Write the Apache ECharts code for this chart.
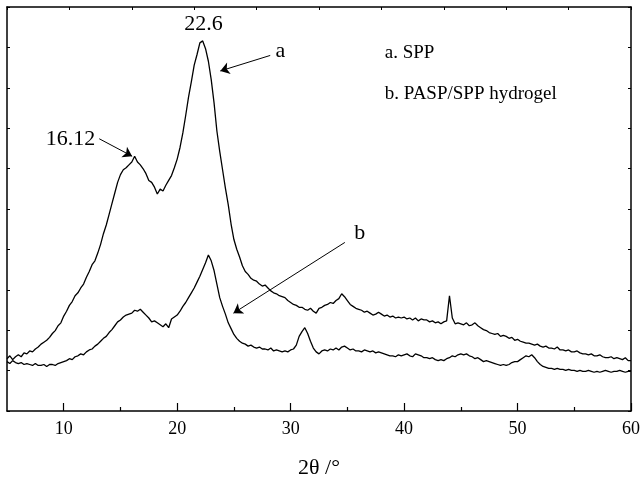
<!DOCTYPE html>
<html>
<head>
<meta charset="utf-8">
<script src="https://cdn.jsdelivr.net/npm/echarts@6/dist/echarts.min.js"></script>
<style>html,body{margin:0;padding:0;background:#fff}#c{width:643px;height:484px}</style>
</head>
<body>
<div id="c"></div>
<script>
// scan: 2θ from 5° to 60°, step 0.25°
const scanStart = 5;
const scanStep = 0.25;
// curve a: SPP (relative intensity, one row per degree)
const spp = [
  54, 57, 53, 56,   58, 56, 60, 59,   62, 61, 64, 66,   69, 71, 73, 76,
  80, 83, 88, 91,   98, 103, 109, 113, 119, 122, 127, 131, 138, 144, 151, 155,
  163, 172, 183, 192, 203, 214, 225, 236, 244, 249, 251, 254, 257, 263, 257, 254,
  250, 245, 238, 236, 231, 224, 229, 227, 233, 238, 243, 251, 260, 272, 287, 305,
  324, 340, 357, 368, 380, 382, 374, 361, 342, 318, 289, 268, 249, 230, 213, 193,
  177, 167, 159, 150, 144, 141, 137, 135, 134, 131, 129, 130, 127, 124, 122, 121,
  119, 118, 117, 114, 112, 110, 109, 107, 107, 105, 104, 106, 103, 101, 106, 107,
  109, 110, 112, 111, 114, 116, 121, 118, 114, 110, 108, 106, 105, 104, 102, 103,
  101, 99, 100, 102, 100, 98, 99, 97,   98, 96, 97, 96,   97, 95, 96, 94,
  96, 93, 95, 94,   94, 92, 93, 91,   92, 90, 92, 93,   119, 96, 90, 91,
  90, 89, 91, 88,   89, 91, 88, 86,   84, 83, 81, 80,   79, 80, 77, 78,
  77, 75, 76, 73,   74, 72, 71, 70,   70, 69, 68, 69,   67, 66, 67, 65,
  65, 64, 66, 63,   63, 62, 63, 61,   61, 62, 60, 59,   59, 58, 59, 57,
  57, 58, 56, 55,   55, 56, 54, 55,   54, 53, 55, 52,   52
];
// curve b: PASP/SPP hydrogel
const hydrogel = [
  51, 49, 52, 50,   49, 50, 48, 49,   48, 47, 49, 47,   47, 48, 46, 48,
  48, 47, 49, 50,   51, 52, 54, 53,   56, 57, 59, 58,   61, 63, 64, 67,
  69, 72, 75, 77,   81, 84, 88, 92,   94, 97, 99, 100,  101, 104, 103, 105,
  102, 99, 96, 92,  93, 91, 89, 87,   90, 86, 95, 97,   99, 103, 108, 112,
  117, 122, 127, 133, 139, 146, 153, 161, 155, 145, 131, 117, 108, 100, 91, 85,
  79, 75, 72, 70,   69, 67, 68, 66,   65, 66, 64, 64,   63, 65, 62, 63,
  62, 61, 62, 61,   63, 64, 68, 77,   82, 86, 80, 72,   65, 61, 59, 62,
  63, 62, 64, 63,   65, 63, 66, 67,   65, 63, 64, 62,   62, 61, 63, 62,
  61, 62, 60, 61,   60, 59, 58, 57,   57, 56, 58, 57,   58, 59, 57, 56,
  59, 58, 57, 55,   55, 54, 55, 53,   52, 53, 52, 54,   55, 57, 56, 58,
  59, 58, 59, 57,   56, 54, 55, 53,   51, 52, 51, 50,   49, 48, 47, 48,
  47, 48, 50, 51,   51, 53, 55, 57,   56, 58, 55, 51,   48, 46, 45, 44,
  44, 43, 44, 43,   43, 42, 43, 42,   42, 41, 42, 41,   41, 42, 41, 40,
  41, 40, 41, 42,   41, 40, 41, 41,   42, 41, 40, 41,   41
];
const xTicks = [10, 20, 30, 40, 50, 60];
const xMinorTicks = [15, 25, 35, 45, 55];
const xName = '2θ /°';
const legendTexts = ['a. SPP', 'b. PASP/SPP hydrogel'];
const peakLabels = ['22.6', '16.12'];
const curveLabels = ['a', 'b'];

const yMax = 417;
const serif = '"Liberation Serif", "DejaVu Serif", serif';

function toPairs(arr) { return arr.map((v, i) => [scanStart + i * scanStep, v]); }

function textPoint(text, coord, size) {
  return { coord: coord, symbol: 'circle', symbolSize: 0,
    label: { show: true, formatter: text, color: '#000', fontFamily: serif, fontSize: size, position: 'inside' } };
}
function leftText(text, coord, size) {
  return { coord: coord, symbol: 'circle', symbolSize: 0,
    label: { show: true, formatter: text, color: '#000', fontFamily: serif, fontSize: size, position: 'right', distance: 0 } };
}

const chart = echarts.init(document.getElementById('c'), null, { renderer: 'canvas' });
const axisLine = { show: true, lineStyle: { color: '#000', width: 1.5 } };
chart.setOption({
  animation: false,
  backgroundColor: '#fff',
  grid: { left: 7, right: 10, top: 7, bottom: 60 },
  xAxis: [
    { type: 'value', min: 5, max: 60, position: 'bottom',
      axisLine: axisLine, splitLine: { show: false },
      axisTick: { show: true, inside: true, length: 8, customValues: xTicks, lineStyle: { color: '#000', width: 1.2 } },
      axisLabel: { show: true, customValues: xTicks, color: '#000', fontFamily: serif, fontSize: 18, margin: 9 },
      name: xName, nameLocation: 'middle', nameGap: 46,
      nameTextStyle: { color: '#000', fontFamily: serif, fontSize: 22 } },
    { type: 'value', min: 5, max: 60, position: 'bottom',
      axisLine: { show: false }, splitLine: { show: false },
      axisTick: { show: true, inside: true, length: 4, customValues: xMinorTicks, lineStyle: { color: '#000', width: 1.2 } },
      axisLabel: { show: false } },
    { type: 'value', min: 0, max: 10, interval: 1, position: 'top',
      axisLine: axisLine, splitLine: { show: false },
      axisTick: { show: true, inside: true, length: 3, lineStyle: { color: '#000' } },
      axisLabel: { show: false } }
  ],
  yAxis: [
    { type: 'value', min: 0, max: yMax, interval: yMax / 10, position: 'left',
      axisLine: axisLine, splitLine: { show: false },
      axisTick: { show: true, inside: true, length: 3, lineStyle: { color: '#000' } },
      axisLabel: { show: false } },
    { type: 'value', min: 0, max: yMax, interval: yMax / 10, position: 'right',
      axisLine: axisLine, splitLine: { show: false },
      axisTick: { show: true, inside: true, length: 3, lineStyle: { color: '#000' } },
      axisLabel: { show: false } }
  ],
  series: [
    { type: 'line', name: 'a', data: toPairs(spp), showSymbol: false, symbol: 'none',
      lineStyle: { color: '#000', width: 1.3 }, itemStyle: { color: '#000' },
      markLine: { silent: true, symbol: ['none', 'arrow'], symbolSize: 9,
        label: { show: false }, lineStyle: { color: '#000', width: 1, type: 'solid' },
        data: [
          [{ coord: [13.13, 281] }, { coord: [16.03, 263] }],
          [{ coord: [28.2, 367] }, { coord: [23.8, 351] }],
          [{ coord: [34.78, 174] }, { coord: [24.96, 101] }]
        ] },
      markPoint: { silent: true, data: [
        textPoint(peakLabels[0], [22.33, 399], 22),
        textPoint(peakLabels[1], [10.6, 281], 22),
        textPoint(curveLabels[0], [29.1, 371], 22),
        textPoint(curveLabels[1], [36.1, 183], 22),
        leftText(legendTexts[0], [38.3, 369], 19),
        leftText(legendTexts[1], [38.3, 327], 19)
      ] } },
    { type: 'line', name: 'b', data: toPairs(hydrogel), showSymbol: false, symbol: 'none',
      lineStyle: { color: '#000', width: 1.3 }, itemStyle: { color: '#000' } }
  ]
});
</script>
</body>
</html>
